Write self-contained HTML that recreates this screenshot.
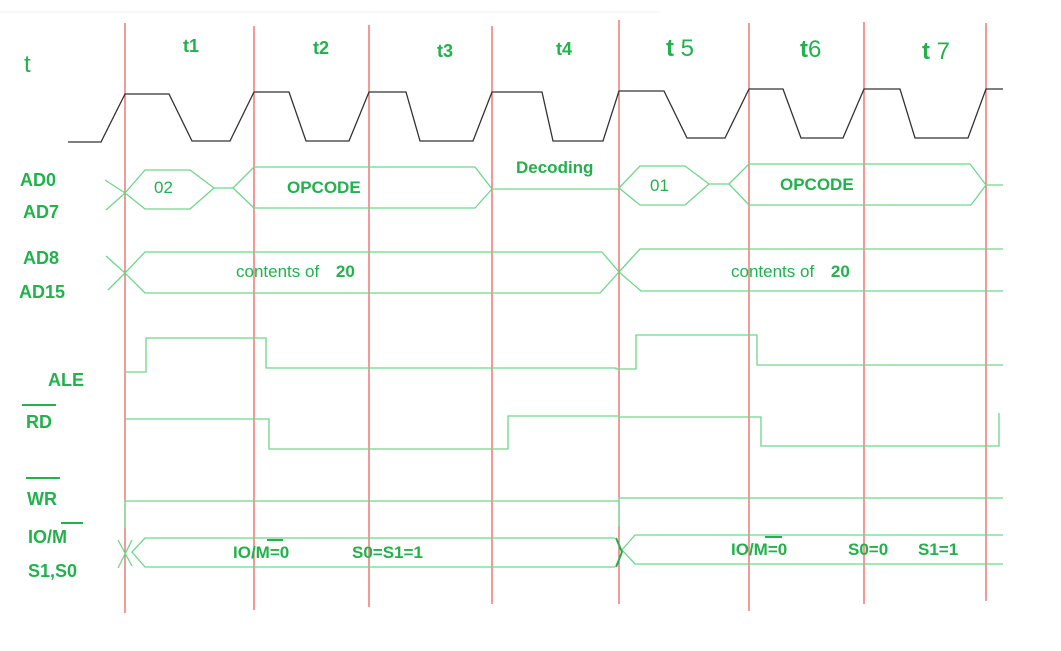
<!DOCTYPE html>
<html><head><meta charset="utf-8"><style>
html,body{margin:0;padding:0;background:#fff;}
svg{display:block;}
text{font-family:"Liberation Sans",sans-serif;fill:#22b14c;}
.b{font-weight:bold;font-size:18px;}
</style></head><body>
<svg width="1061" height="651" viewBox="0 0 1061 651" xmlns="http://www.w3.org/2000/svg">
<line x1="0" y1="12" x2="660" y2="12" stroke="#f0f0f0" stroke-width="1"/>
<g stroke="#ee5555" stroke-width="1.2">
<line x1="125" y1="23" x2="125" y2="613"/>
<line x1="254" y1="26" x2="254" y2="610"/>
<line x1="369" y1="25" x2="369" y2="607"/>
<line x1="492" y1="26" x2="492" y2="604"/>
<line x1="619" y1="20" x2="619" y2="604"/>
<line x1="749" y1="23" x2="749" y2="611"/>
<line x1="864" y1="22" x2="864" y2="604"/>
<line x1="986" y1="23" x2="986" y2="601"/>
</g>
<polyline fill="none" stroke="#333" stroke-width="1.3" points="68,142 101,142 125,94 169,94 192,141 230,141 254,92 289,92 306,141 349,141 369,92 406,92 420,141 473,141 492,92 542,92 553,141 603,141 619,91 664,91 687,138 725,138 749,89 783,89 801,138 843,138 864,89 900,89 915,138 968,138 986,89 1003,89"/>
<g fill="none" stroke="#6fd68b" stroke-width="1.3">
<line x1="105" y1="180" x2="125" y2="193"/><line x1="106" y1="210" x2="125" y2="193"/>
<polygon points="125,193 145,170 190,170 214,188 190,209 145,209"/>
<line x1="214" y1="188" x2="233" y2="188"/>
<polygon points="233,188 254,167 475,167 492,189 475,208 254,208"/>
<line x1="492" y1="189" x2="619" y2="189"/>
<polygon points="619,188 640,166 685,166 709,184 685,205 640,205"/>
<line x1="709" y1="184" x2="729" y2="184"/>
<polygon points="729,184 749,164 970,164 986,185 971,205 749,205"/>
<line x1="986" y1="185" x2="1003" y2="185"/>
<line x1="106" y1="256" x2="125" y2="273"/><line x1="108" y1="290" x2="125" y2="273"/>
<polyline points="602,252 145,252 125,273 145,293 600,293 619,272 602,252"/>
<polyline points="1003,249 640,249 619,272 641,291 1003,291"/>
<polyline points="125,372 146,372 146,338 266,338 266,368 616,368 616,369 636,369 636,335 757,335 757,365 1003,365"/>
<polyline points="125,419 269,419 269,449 508,449 508,416 619,416 619,417 761,417 761,446 999,446 999,413"/>
<polyline points="125,528 125,501 619,501"/>
<polyline points="619,526 619,498 1003,498"/>
<line x1="118" y1="540" x2="132" y2="566"/><line x1="118" y1="568" x2="132" y2="540"/>
<polyline points="615,538 145,538 132,552 145,567 615,567"/>
<polyline points="1003,535 635,535 622,550 635,564 1003,564"/>
</g>
<polyline points="616,538 622,552 616,567" fill="none" stroke="#22b14c" stroke-width="2"/>
<text x="24" y="72" font-size="24">t</text>
<text class="b" x="183" y="52">t1</text>
<text class="b" x="313" y="54">t2</text>
<text class="b" x="437" y="57">t3</text>
<text class="b" x="556" y="55">t4</text>
<text x="666" y="56" style="font-size:24px"><tspan font-weight="bold">t</tspan> 5</text>
<text x="800" y="57" style="font-size:24px"><tspan font-weight="bold">t</tspan>6</text>
<text x="922" y="59" style="font-size:24px"><tspan font-weight="bold">t</tspan> 7</text>
<text class="b" x="20" y="186">AD0</text>
<text class="b" x="23" y="218">AD7</text>
<text class="b" x="23" y="264">AD8</text>
<text class="b" x="19" y="298">AD15</text>
<text class="b" x="48" y="386">ALE</text>
<text class="b" x="26" y="428">RD</text>
<line x1="22" y1="405" x2="56" y2="405" stroke="#22b14c" stroke-width="2"/>
<text class="b" x="27" y="505">WR</text>
<line x1="26" y1="478" x2="60" y2="478" stroke="#22b14c" stroke-width="2"/>
<text class="b" x="28" y="543">IO/M</text>
<line x1="61" y1="523" x2="83" y2="523" stroke="#22b14c" stroke-width="2"/>
<text class="b" x="28" y="577">S1,S0</text>
<text x="154" y="193" style="font-size:17px">02</text>
<text class="b" x="287" y="193" style="font-size:17px">OPCODE</text>
<text class="b" x="516" y="173" style="font-size:17px">Decoding</text>
<text x="650" y="191" style="font-size:17px">01</text>
<text class="b" x="780" y="190" style="font-size:17px">OPCODE</text>
<text x="236" y="277" style="font-size:17px">contents of <tspan font-weight="bold" dx="12">20</tspan></text>
<text x="731" y="277" style="font-size:17px">contents of <tspan font-weight="bold" dx="12">20</tspan></text>
<text class="b" x="233" y="558" style="font-size:17px">IO/M=0</text>
<line x1="267" y1="540" x2="283" y2="540" stroke="#22b14c" stroke-width="2"/>
<text class="b" x="352" y="558" style="font-size:17px">S0=S1=1</text>
<text class="b" x="731" y="555" style="font-size:17px">IO/M=0</text>
<line x1="765" y1="537" x2="782" y2="537" stroke="#22b14c" stroke-width="2"/>
<text class="b" x="848" y="555" style="font-size:17px">S0=0</text>
<text class="b" x="918" y="555" style="font-size:17px">S1=1</text>
</svg>
</body></html>
